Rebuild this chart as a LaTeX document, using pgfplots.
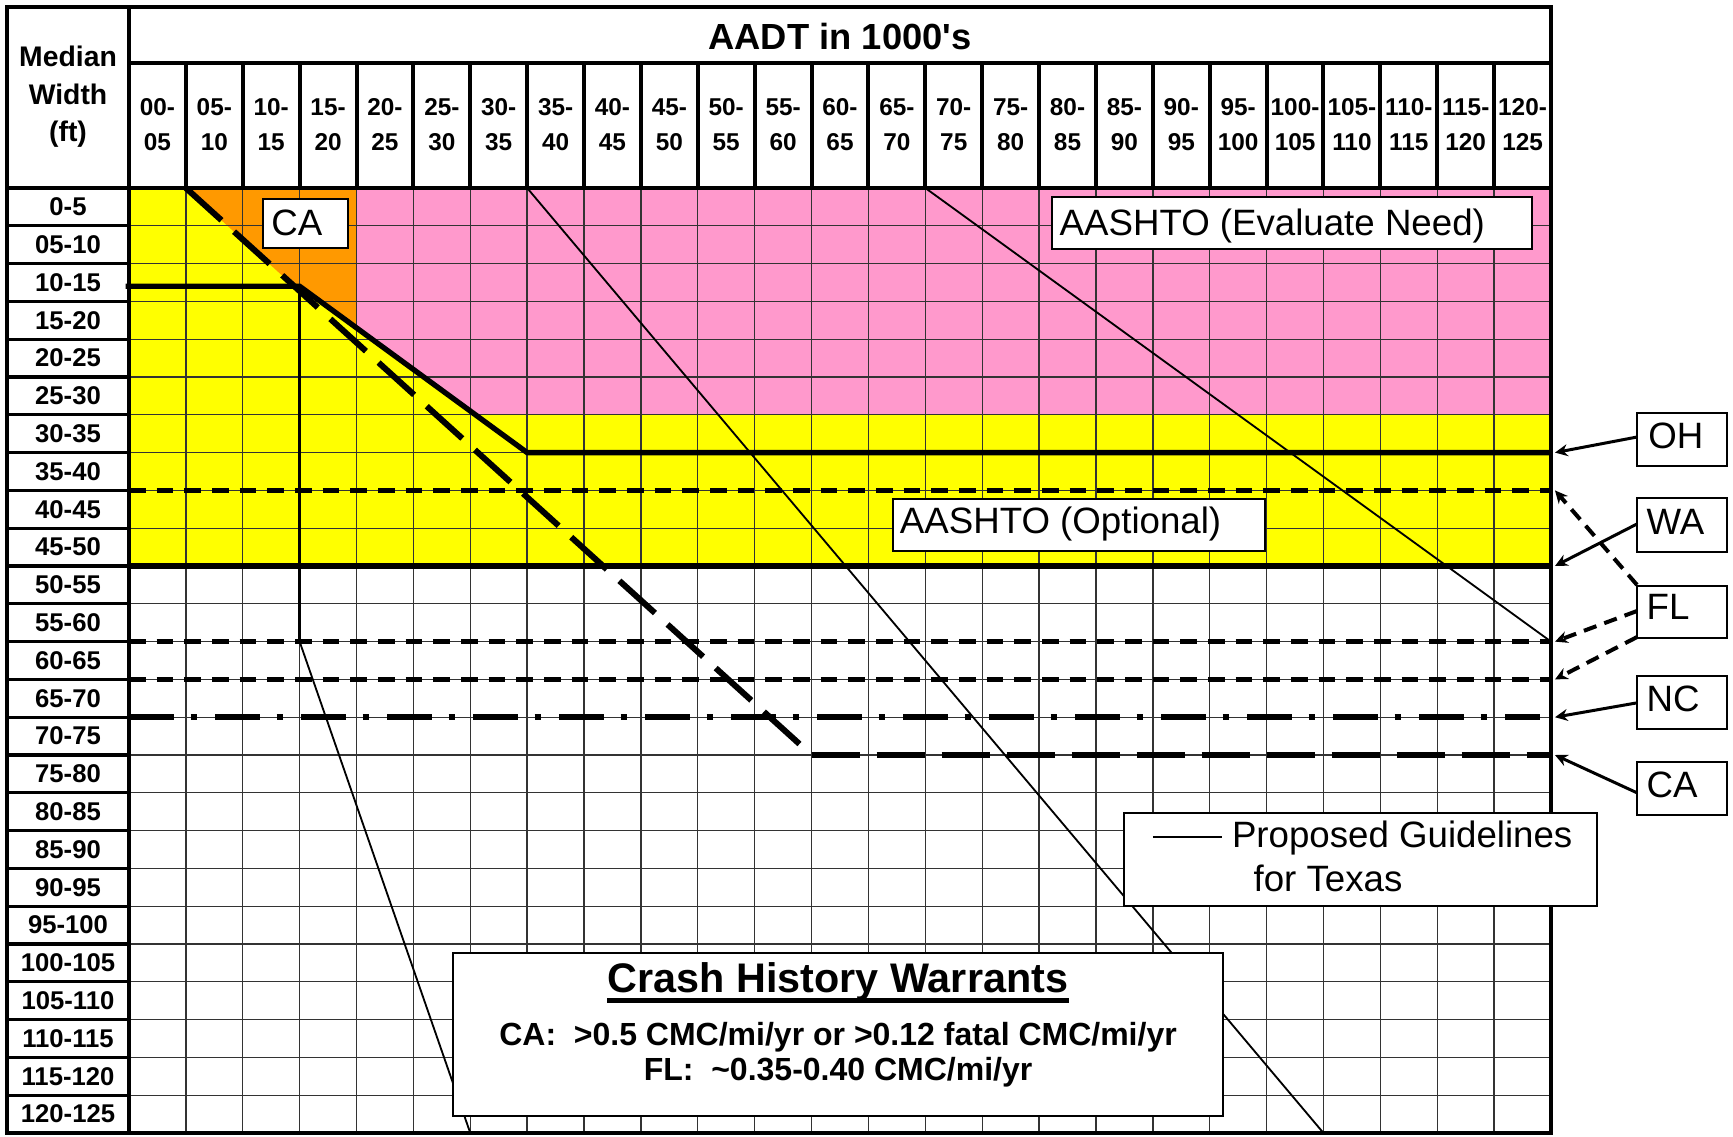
\documentclass[border=0pt]{standalone}
\usepackage{fontspec}
\setmainfont{Liberation Sans}
\usepackage{pgfplots}
\pgfplotsset{compat=1.18}
\usetikzlibrary{arrows.meta}
\definecolor{ylw}{RGB}{255,255,0}
\definecolor{pnk}{RGB}{255,153,204}
\definecolor{org}{RGB}{255,153,0}
\tikzset{
  cl/.style={font=\fontsize{7.3}{10.5}\selectfont\bfseries, align=center, inner sep=0pt},
  rl/.style={font=\fontsize{7.7}{9}\selectfont\bfseries, inner sep=0pt},
  lab/.style={font=\fontsize{11}{13}\selectfont, inner sep=0pt, anchor=base west},
  arr/.style={line width=0.9pt, -{Stealth[length=3.8pt,width=3.6pt]}},
}
\begin{document}
\begin{tikzpicture}
\begin{axis}[
  set layers,
  scale only axis, width=426.6pt, height=283.5pt,
  xmin=0, xmax=125, ymin=0, ymax=125, y dir=reverse,
  clip=false,
  axis line style={line width=1.4pt},
  xtick={5,10,...,120}, ytick={5,10,...,120},
  xticklabels={}, yticklabels={},
  major tick length=0pt,
  grid=major,
  major grid style={black!80, line width=0.4pt},
  no markers,
]
% corners of the whole picture
\coordinate (bbA) at (axis cs:-11.34,-24.87);
\coordinate (bbB) at (axis cs:141.0,125.4);

% coloured regions
\addplot[fill=ylw, draw=none, on layer=axis background] coordinates {(0,0) (125,0) (125,50) (0,50)} -- cycle;
\addplot[fill=pnk, draw=none, on layer=axis background] coordinates {(20,0) (125,0) (125,30) (30.45,30) (20,18.5)} -- cycle;
\addplot[fill=org, draw=none, on layer=axis background] coordinates {(5,0) (20,0) (20,18.5) (15,13) (14.5,13)} -- cycle;

% proposed guidelines for Texas
\addplot[black, line width=0.8pt] coordinates {(15,13) (15,60)};
\addplot[black, line width=0.55pt] coordinates {(15,60) (30,125)};
\addplot[black, line width=0.55pt] coordinates {(35,0) (105,125)};
\addplot[black, line width=0.55pt] coordinates {(70,0) (125,60)};

% state guidelines
\addplot[black, line width=1.6pt] coordinates {(-0.3,13) (15,13) (35,35) (125,35)}; % OH
\addplot[black, line width=1.7pt] coordinates {(0,50) (125,50)}; % WA
\addplot[black, line width=1.5pt, dash pattern=on 5pt off 3.3pt] coordinates {(0,40) (125,40)}; % FL
\addplot[black, line width=1.5pt, dash pattern=on 5pt off 3.3pt] coordinates {(0,60) (125,60)}; % FL
\addplot[black, line width=1.5pt, dash pattern=on 5pt off 3.3pt] coordinates {(0,65) (125,65)}; % FL
\addplot[black, line width=1.8pt, dash pattern=on 13.4pt off 5.1pt on 1.9pt off 5.4pt] coordinates {(0,70) (124,70)}; % NC
\addplot[black, line width=1.8pt, dash pattern=on 14.4pt off 5.1pt] coordinates {(5,0) (59.2,73.9)}; % CA
\addplot[black, line width=1.8pt, dash pattern=on 14.4pt off 5.1pt] coordinates {(60,75) (125,75)}; % CA

% header and left column
\draw[line width=1.0pt] (axis cs:-10.72,-23.94) rectangle (axis cs:125,125);
\draw[line width=1.0pt] (axis cs:0,-16.53) -- (axis cs:125,-16.53);
\draw[line width=1.2pt] (axis cs:0,-23.94) -- (axis cs:0,0);
\pgfplotsinvokeforeach{5,10,...,120}{\draw[line width=1.2pt] (axis cs:#1,-16.53) -- (axis cs:#1,0);}
\pgfplotsinvokeforeach{5,10,...,120}{\draw[line width=1.0pt] (axis cs:-10.72,#1) -- (axis cs:0,#1);}
\draw[line width=1.4pt] (axis cs:-10.72,0) -- (axis cs:0,0);

\node[font=\fontsize{10.9}{13}\selectfont\bfseries, inner sep=0pt] at (axis cs:62.5,-20.1) {AADT in 1000\textquotesingle s};
\node[font=\fontsize{8.5}{11.2}\selectfont\bfseries, align=center, inner sep=0pt] at (axis cs:-5.36,-12.04) {Median\\Width\\(ft)};

\node[cl] at (axis cs:2.5,-8.4) {00-\\05};
\node[cl] at (axis cs:7.5,-8.4) {05-\\10};
\node[cl] at (axis cs:12.5,-8.4) {10-\\15};
\node[cl] at (axis cs:17.5,-8.4) {15-\\20};
\node[cl] at (axis cs:22.5,-8.4) {20-\\25};
\node[cl] at (axis cs:27.5,-8.4) {25-\\30};
\node[cl] at (axis cs:32.5,-8.4) {30-\\35};
\node[cl] at (axis cs:37.5,-8.4) {35-\\40};
\node[cl] at (axis cs:42.5,-8.4) {40-\\45};
\node[cl] at (axis cs:47.5,-8.4) {45-\\50};
\node[cl] at (axis cs:52.5,-8.4) {50-\\55};
\node[cl] at (axis cs:57.5,-8.4) {55-\\60};
\node[cl] at (axis cs:62.5,-8.4) {60-\\65};
\node[cl] at (axis cs:67.5,-8.4) {65-\\70};
\node[cl] at (axis cs:72.5,-8.4) {70-\\75};
\node[cl] at (axis cs:77.5,-8.4) {75-\\80};
\node[cl] at (axis cs:82.5,-8.4) {80-\\85};
\node[cl] at (axis cs:87.5,-8.4) {85-\\90};
\node[cl] at (axis cs:92.5,-8.4) {90-\\95};
\node[cl] at (axis cs:97.5,-8.4) {95-\\100};
\node[cl] at (axis cs:102.5,-8.4) {100-\\105};
\node[cl] at (axis cs:107.5,-8.4) {105-\\110};
\node[cl] at (axis cs:112.5,-8.4) {110-\\115};
\node[cl] at (axis cs:117.5,-8.4) {115-\\120};
\node[cl] at (axis cs:122.5,-8.4) {120-\\125};

\node[rl] at (axis cs:-5.36,2.5) {0-5};
\node[rl] at (axis cs:-5.36,7.5) {05-10};
\node[rl] at (axis cs:-5.36,12.5) {10-15};
\node[rl] at (axis cs:-5.36,17.5) {15-20};
\node[rl] at (axis cs:-5.36,22.5) {20-25};
\node[rl] at (axis cs:-5.36,27.5) {25-30};
\node[rl] at (axis cs:-5.36,32.5) {30-35};
\node[rl] at (axis cs:-5.36,37.5) {35-40};
\node[rl] at (axis cs:-5.36,42.5) {40-45};
\node[rl] at (axis cs:-5.36,47.5) {45-50};
\node[rl] at (axis cs:-5.36,52.5) {50-55};
\node[rl] at (axis cs:-5.36,57.5) {55-60};
\node[rl] at (axis cs:-5.36,62.5) {60-65};
\node[rl] at (axis cs:-5.36,67.5) {65-70};
\node[rl] at (axis cs:-5.36,72.5) {70-75};
\node[rl] at (axis cs:-5.36,77.5) {75-80};
\node[rl] at (axis cs:-5.36,82.5) {80-85};
\node[rl] at (axis cs:-5.36,87.5) {85-90};
\node[rl] at (axis cs:-5.36,92.5) {90-95};
\node[rl] at (axis cs:-5.36,97.5) {95-100};
\node[rl] at (axis cs:-5.36,102.5) {100-105};
\node[rl] at (axis cs:-5.36,107.5) {105-110};
\node[rl] at (axis cs:-5.36,112.5) {110-115};
\node[rl] at (axis cs:-5.36,117.5) {115-120};
\node[rl] at (axis cs:-5.36,122.5) {120-125};

% annotation boxes inside the grid
\draw[line width=0.6pt, fill=white] (axis cs:11.78,1.46) rectangle (axis cs:19.25,7.94);
\node[lab] at (axis cs:12.46,6.22) {CA};
\draw[line width=0.6pt, fill=white] (axis cs:81.14,1.19) rectangle (axis cs:123.33,8.07);
\node[lab] at (axis cs:81.75,6.22) {AASHTO (Evaluate Need)};
\draw[line width=0.6pt, fill=white] (axis cs:67.16,41.14) rectangle (axis cs:99.86,48.02);
\node[lab] at (axis cs:67.71,45.68) {AASHTO (Optional)};
\draw[line width=0.6pt, fill=white] (axis cs:87.47,82.67) rectangle (axis cs:129.04,94.97);
\draw[line width=0.55pt] (axis cs:90.01,85.85) -- (axis cs:96.08,85.85);
\node[lab] at (axis cs:96.9,87.17) {Proposed Guidelines};
\node[lab] at (axis cs:98.8,93.12) {for Texas};

\draw[line width=0.6pt, fill=white] (axis cs:28.48,101.19) rectangle (axis cs:96.17,122.75);
\node[font=\fontsize{12.4}{14}\selectfont\bfseries, inner sep=0pt, anchor=base] (ttl) at (axis cs:62.33,106.35) {Crash History Warrants};
\draw[line width=1.5pt] ([yshift=-2.6pt]ttl.base west) -- ([yshift=-2.6pt]ttl.base east);
\node[font=\fontsize{9.6}{11}\selectfont\bfseries, inner sep=0pt, anchor=base] at (axis cs:62.33,113.49) {CA:\ \ >0.5 CMC/mi/yr or >0.12 fatal CMC/mi/yr};
\node[font=\fontsize{9.6}{11}\selectfont\bfseries, inner sep=0pt, anchor=base] at (axis cs:62.33,117.99) {FL:\ \ \textasciitilde0.35-0.40 CMC/mi/yr};

% state labels at the right
\draw[line width=0.6pt, fill=white] (axis cs:132.56,29.76) rectangle (axis cs:140.47,36.77);
\node[lab] at (axis cs:133.5,34.4) {OH};
\draw[line width=0.6pt, fill=white] (axis cs:132.56,41.0) rectangle (axis cs:140.47,48.15);
\node[lab] at (axis cs:133.35,45.8) {WA};
\draw[line width=0.6pt, fill=white] (axis cs:132.56,52.65) rectangle (axis cs:140.47,59.52);
\node[lab] at (axis cs:133.35,57.1) {FL};
\draw[line width=0.6pt, fill=white] (axis cs:132.56,64.55) rectangle (axis cs:140.47,71.56);
\node[lab] at (axis cs:133.35,69.3) {NC};
\draw[line width=0.6pt, fill=white] (axis cs:132.56,75.93) rectangle (axis cs:140.47,82.94);
\node[lab] at (axis cs:133.35,80.6) {CA};

\draw[arr] (axis cs:132.56,32.94) -- (axis cs:125.35,35);
\draw[arr] (axis cs:132.56,44.44) -- (axis cs:125.35,50);
\draw[arr, line width=1.2pt, dash pattern=on 4pt off 2.5pt] (axis cs:132.56,52.5) -- (axis cs:125.35,40);
\draw[arr, line width=1.2pt, dash pattern=on 4pt off 2.5pt] (axis cs:132.56,55.95) -- (axis cs:125.35,60);
\draw[arr, line width=1.2pt, dash pattern=on 4pt off 2.5pt] (axis cs:132.56,59.4) -- (axis cs:125.35,65);
\draw[arr] (axis cs:132.56,68.1) -- (axis cs:125.35,70);
\draw[arr] (axis cs:132.56,80.0) -- (axis cs:125.35,75);
\end{axis}
\pgfresetboundingbox
\path (bbA) rectangle (bbB);
\end{tikzpicture}
\end{document}
